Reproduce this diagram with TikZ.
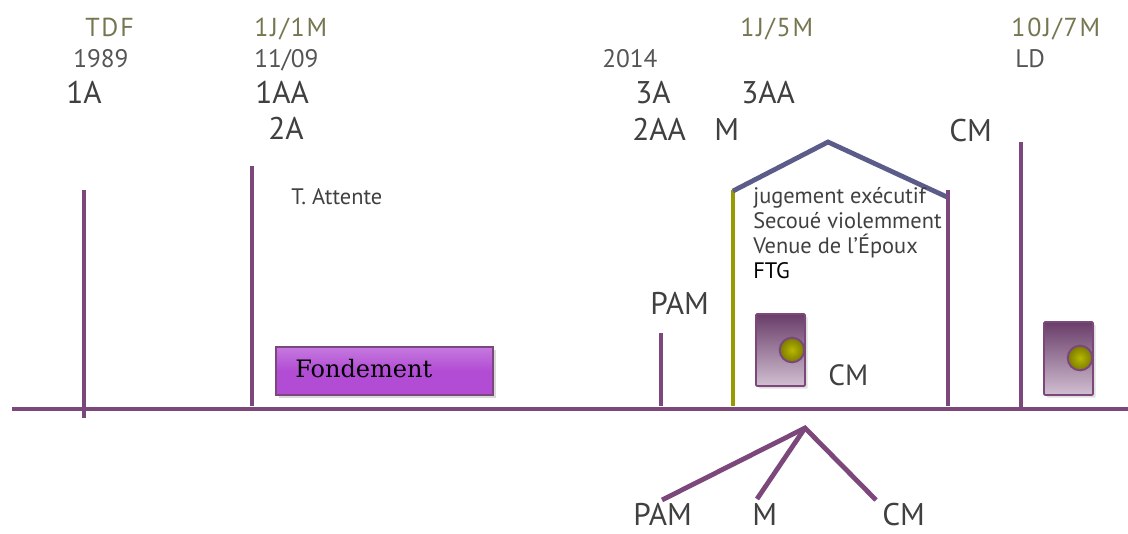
\documentclass[tikz,border=0pt]{standalone}
\usepackage{fontspec}
\setmainfont{PT Sans}
\newfontfamily\slabfont{DejaVu Serif}
\newfontfamily\widefont[LetterSpace=7]{PT Sans}
\usetikzlibrary{shadows}
\definecolor{tlpurple}{RGB}{124,72,124}
\definecolor{tlolive}{RGB}{153,153,0}
\definecolor{roofblue}{RGB}{92,92,138}
\definecolor{lblolive}{RGB}{118,118,80}
\definecolor{txtgrey}{RGB}{64,64,64}
\definecolor{lightgrey}{RGB}{85,85,85}
\definecolor{fondfill}{RGB}{178,76,212}
\begin{document}
\begin{tikzpicture}[x=0.75pt,y=-0.75pt,
  big/.style={font=\fontsize{23.5}{28}\selectfont, text=txtgrey, anchor=base west, inner sep=0pt},
  med/.style={font=\fontsize{19}{23}\selectfont, text=lightgrey, anchor=base west, inner sep=0pt},
  olivelbl/.style={font=\widefont\fontsize{19.5}{23}\selectfont, text=lblolive, anchor=base west, inner sep=0pt},
  small/.style={font=\fontsize{16.8}{20}\selectfont, text=txtgrey, anchor=base west, inner sep=0pt},
  tick/.style={draw=tlpurple, line width=3pt},
  oliveline/.style={draw=tlolive, line width=3pt},
  roof/.style={draw=roofblue, line width=3.6pt, line join=miter},
  fan/.style={draw=tlpurple, line width=3.6pt},
  door/.style={draw=tlpurple, line width=1.3pt, top color=tlpurple!85!black, bottom color=tlpurple!35,
    minimum width=36.75pt, minimum height=54pt, inner sep=0pt, rounded corners=0.8pt,
    drop shadow={shadow xshift=2pt, shadow yshift=-2pt, opacity=0.25}},
  knob/.style={circle, draw=tlpurple, line width=1.5pt, inner color=tlolive!70!yellow, outer color=tlolive!80!black,
    minimum size=18.5pt, inner sep=0pt},
  fondbox/.style={draw=tlpurple, line width=1.3pt, top color=fondfill!75!white, bottom color=fondfill, middle color=fondfill,
    minimum width=162.75pt, minimum height=36pt,
    inner sep=0pt, drop shadow={shadow xshift=2pt, shadow yshift=-2.5pt, opacity=0.3}}
]
\useasboundingbox (0,0) rectangle (1128,534);

% main time line
\coordinate (ls) at (12,409);
\coordinate (le) at (1128,409);
\draw[tick, line width=3.2pt] (ls) -- (le);

% ticks
\coordinate (t1a) at (84,190);  \coordinate (t1b) at (84,418);
\coordinate (t2a) at (252,166); \coordinate (t2b) at (252,406);
\coordinate (t3a) at (661,333); \coordinate (t3b) at (661,406);
\coordinate (t4a) at (733,190); \coordinate (t4b) at (733,406);
\coordinate (t5a) at (948,190); \coordinate (t5b) at (948,406);
\coordinate (t6a) at (1021,142);\coordinate (t6b) at (1021,408);
\draw[tick] (t1a) -- (t1b);
\draw[tick] (t2a) -- (t2b);
\draw[tick] (t3a) -- (t3b);
\draw[oliveline] (t4a) -- (t4b);
\draw[tick] (t5a) -- (t5b);
\draw[tick] (t6a) -- (t6b);

% roof
\coordinate (rl) at (733,191);
\coordinate (rt) at (828,142);
\coordinate (rr) at (947,197);
\draw[roof] (rl) -- (rt) -- (rr);

% fan below
\coordinate (fa) at (805,428);
\coordinate (f1) at (662,500);
\coordinate (f2) at (757,499);
\coordinate (f3) at (876,500);
\draw[fan] (f1) -- (fa) -- (f3);
\draw[fan] (fa) -- (f2);

% labels top
\node[olivelbl] (tdf) at (85,37) {TDF};
\node[med] (y1989) at (73,68) {1989};
\node[big] (a1) at (66,104) {1A};
\node[olivelbl] (j1m1) at (254,37) {1J/1M};
\node[med] (d1109) at (254,68) {11/09};
\node[big] (aa1) at (255,104) {1AA};
\node[big] (a2) at (268,140) {2A};
\node[med] (y2014) at (602,68) {2014};
\node[big] (a3) at (635,104) {3A};
\node[big] (aa2) at (632,141) {2AA};
\node[big] (mtop) at (714,141) {M};
\node[olivelbl] (j1m5) at (740,37) {1J/5M};
\node[big] (aa3) at (741,104) {3AA};
\node[big] (cmtop) at (949,142) {CM};
\node[olivelbl] (j10m7) at (1011,37) {10J/7M};
\node[med] (ld) at (1015,68) {LD};

\node[small] (attente) at (291,205) {T. Attente};
\node[small] (jug) at (753,204) {jugement exécutif};
\node[small] (sec) at (753,229) {Secoué violemment};
\node[small] (ven) at (753,254) {Venue de l’Époux};
\node[small, text=black] (ftg) at (753,279) {FTG};

\node[big] (pam) at (650,315) {PAM};
\node[big, font=\fontsize{22}{26}\selectfont] (cmdoor) at (828,386) {CM};

% bottom labels
\node[big] (pamb) at (633,525) {PAM};
\node[big] (mb) at (752,525) {M};
\node[big] (cmb) at (882,525) {CM};

% Fondement box
\node[fondbox] (fond) at (384.5,371) {};
\node[anchor=base west, inner sep=0pt, font=\slabfont\fontsize{18}{21}\selectfont, text=black] (fondtxt) at (295,378) {Fondement};

% doors
\node[door] (door1) at (780.5,350) {};
\node[knob] (knob1) at (792,350) {};
\node[door, minimum height=54.75pt] (door2) at (1068.5,358.5) {};
\node[knob] (knob2) at (1080,358) {};
\end{tikzpicture}
\end{document}
